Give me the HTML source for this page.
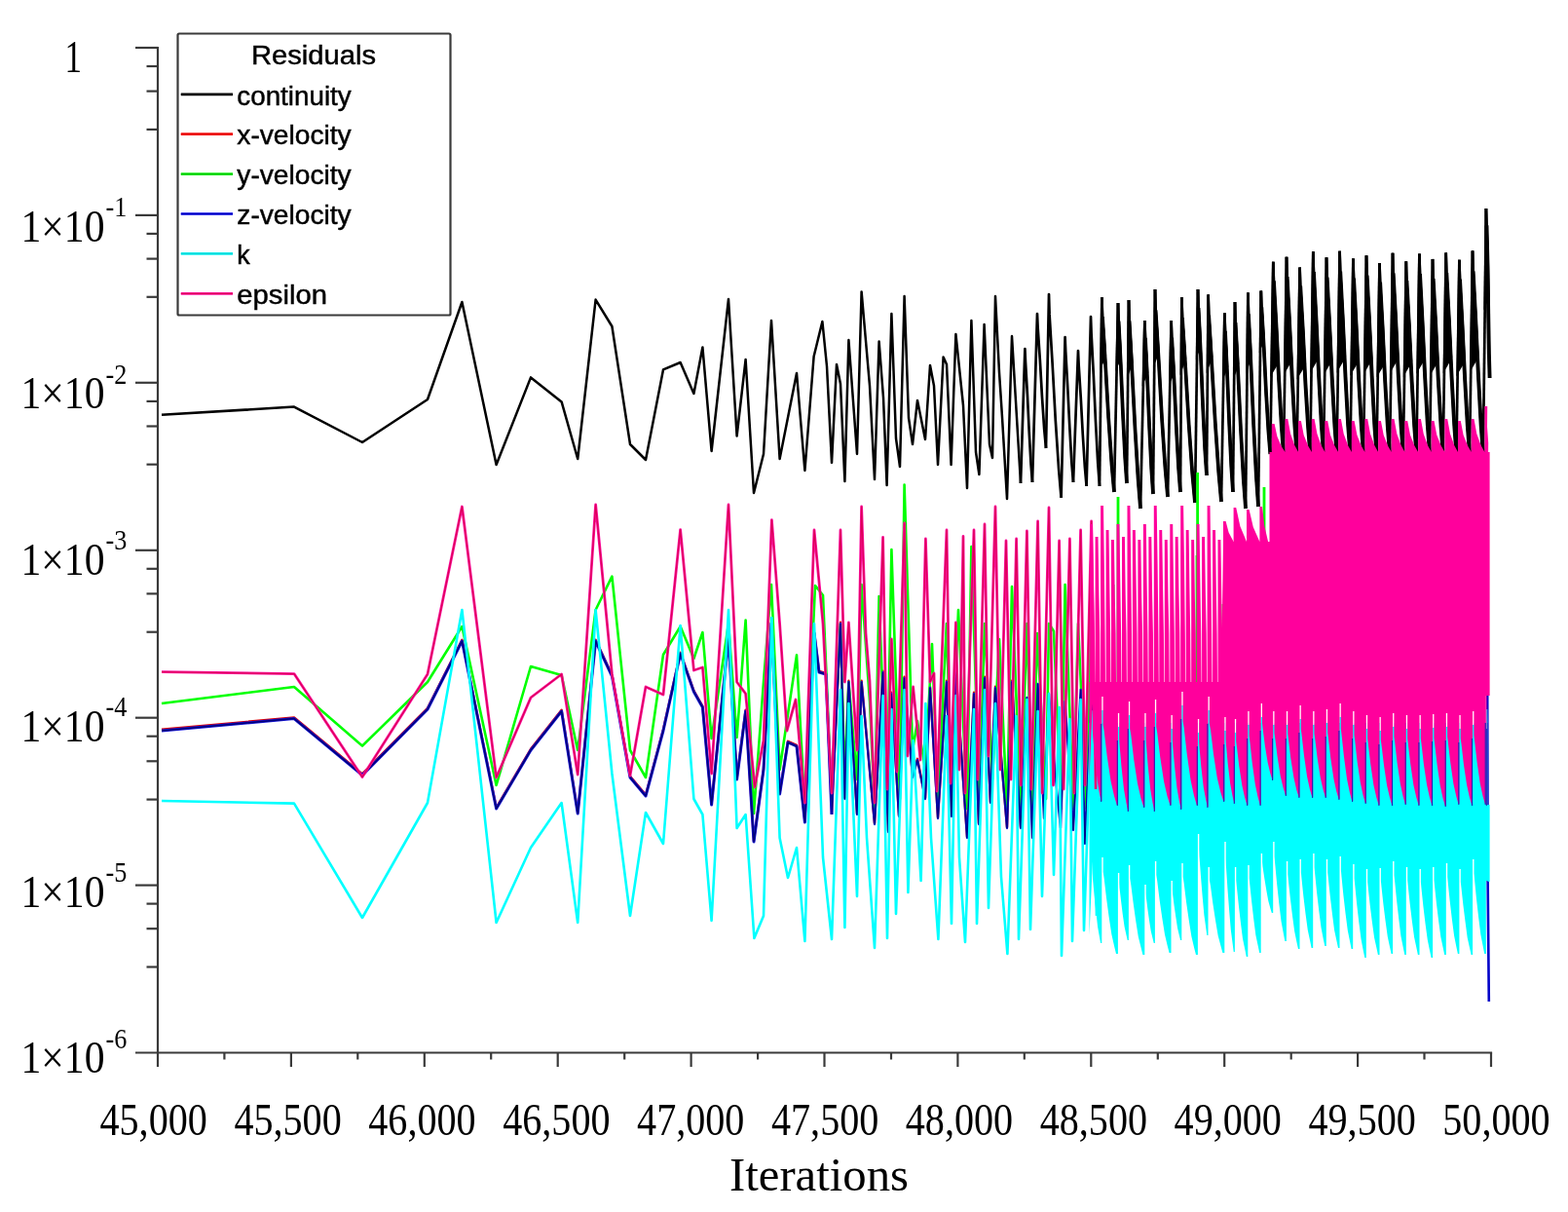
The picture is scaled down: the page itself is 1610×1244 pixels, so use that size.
<!DOCTYPE html>
<html lang="en"><head><meta charset="utf-8"><title>Residuals</title>
<style>html,body{margin:0;padding:0;background:#fff}body{width:1610px;height:1244px;overflow:hidden}svg{display:block}.t{font-family:"Liberation Serif",serif;fill:#000}.s{font-family:"Liberation Sans",sans-serif;fill:#000}.c{fill:none;stroke-linejoin:round;stroke-linecap:butt}</style></head><body>
<svg width="1610" height="1244" viewBox="0 0 1610 1244">
<rect width="1610" height="1244" fill="#fff"/>
<path class="c" d="M166.0 425.8L302.0 417.6L372.0 454.0L439.0 410.0L474.4 310.0L509.6 477.0L545.0 387.4L576.6 412.4L593.2 471.0L611.6 307.6L628.4 335.0L647.0 456.0L663.0 472.0L681.0 379.4L698.6 372.0L712.4 404.0L721.4 356.4L730.6 463.0L748.0 307.0L756.6 447.5L765.6 369.0L774.0 506.0L784.0 466.0L792.0 329.0L800.6 471.0L818.0 383.0L826.4 483.0L835.6 366.0L844.4 330.0L849.0 376.0L854.0 475.0L859.0 374.0L863.0 394.0L867.4 494.0L871.4 349.0L880.0 466.0L884.6 299.4L893.0 396.0L898.0 492.0L902.6 350.6L907.0 408.0L910.6 498.0L915.4 322.0L920.0 450.0L924.0 479.0L928.6 304.0L933.0 429.0L937.0 456.0L942.0 411.0L950.0 451.0L955.0 375.0L959.0 396.0L963.0 477.0L968.6 366.4L972.0 374.0L976.6 477.0L981.4 343.0L989.0 416.0L993.0 501.0L997.4 329.0L1002.0 464.0L1005.4 487.0L1010.6 333.0L1016.0 456.0L1019.0 470.0L1022.0 304.0L1026.0 382.0L1029.0 428.0L1034.0 512.0L1039.0 345.0L1048.0 496.0" stroke="#000000" stroke-width="2.5" />
<path class="c" d="M1048.0 496.0L1052.4 358.0L1053.0 371.7L1054.9 404.6L1056.7 442.9L1058.5 475.8L1060.0 495.0" stroke="#000000" stroke-width="2.7" />
<path class="c" d="M1060.0 495.0L1065.0 322.0L1065.6 335.8L1067.8 368.9L1070.0 407.6L1072.2 440.7L1074.0 460.0" stroke="#000000" stroke-width="2.7" />
<path class="c" d="M1074.0 460.0L1077.0 302.0L1077.6 322.9L1080.6 373.1L1083.8 431.6L1087.1 481.7L1089.6 511.0" stroke="#000000" stroke-width="2.7" />
<path class="c" d="M1089.6 511.0L1093.6 346.0L1094.2 360.9L1096.2 396.7L1098.3 438.4L1100.3 474.1L1102.0 495.0" stroke="#000000" stroke-width="2.7" />
<path class="c" d="M1102.0 495.0L1107.0 360.0L1107.6 373.9L1109.7 407.3L1111.8 446.2L1113.9 479.5L1115.6 499.0" stroke="#000000" stroke-width="2.7" />
<path class="c" d="M1115.6 499.0L1120.0 325.0L1120.6 342.4L1122.8 384.2L1125.0 432.9L1127.2 474.6L1129.0 499.0" stroke="#000000" stroke-width="2.7" />
<path class="c" d="M1129.0 499.0L1131.4 305.0" stroke="#000000" stroke-width="2.7" />
<path class="c" d="M1131.4 305.0L1132.0 325.0L1135.0 373.0L1138.2 429.0L1141.5 477.0L1144.0 505.0" stroke="#000000" stroke-width="2.7" />
<path class="c" d="M1132.0 325.0L1135.0 373.0L1138.2 429.0L1141.5 477.0L1144.0 505.0" stroke="#000000" stroke-width="3.7" />
<path d="M1130.1 305.0L1132.7 305.0L1133.4 329.0L1135.0 347.0L1136.1 365.0L1129.3 381.0Z" fill="#000000"/>
<path class="c" d="M1144.0 505.0L1148.0 311.0" stroke="#000000" stroke-width="2.7" />
<path class="c" d="M1148.0 311.0L1148.6 329.5L1150.8 373.9L1153.0 425.7L1155.2 470.1L1157.0 496.0" stroke="#000000" stroke-width="2.7" />
<path class="c" d="M1148.6 329.5L1150.8 373.9L1153.0 425.7L1155.2 470.1L1157.0 496.0" stroke="#000000" stroke-width="3.7" />
<path d="M1146.7 311.0L1149.3 311.0L1150.0 333.2L1151.2 349.9L1152.0 366.5L1145.4 381.3Z" fill="#000000"/>
<path class="c" d="M1157.0 496.0L1159.0 308.0" stroke="#000000" stroke-width="2.7" />
<path class="c" d="M1159.0 308.0L1159.6 329.4L1162.4 380.8L1165.5 440.7L1168.6 492.0L1171.0 522.0" stroke="#000000" stroke-width="2.7" />
<path class="c" d="M1159.6 329.4L1162.4 380.8L1165.5 440.7L1168.6 492.0L1171.0 522.0" stroke="#000000" stroke-width="3.7" />
<path d="M1157.7 308.0L1160.3 308.0L1161.0 333.7L1162.5 352.9L1163.6 372.2L1156.9 389.3Z" fill="#000000"/>
<path class="c" d="M1171.0 522.0L1175.4 329.0" stroke="#000000" stroke-width="2.7" />
<path class="c" d="M1175.4 329.0L1176.0 346.8L1178.1 389.5L1180.2 439.4L1182.3 482.1L1184.0 507.0" stroke="#000000" stroke-width="2.7" />
<path class="c" d="M1176.0 346.8L1178.1 389.5L1180.2 439.4L1182.3 482.1L1184.0 507.0" stroke="#000000" stroke-width="3.7" />
<path d="M1174.1 329.0L1176.7 329.0L1177.4 350.4L1178.6 366.4L1179.3 382.4L1172.7 396.6Z" fill="#000000"/>
<path class="c" d="M1184.0 507.0L1186.0 297.0" stroke="#000000" stroke-width="2.7" />
<path class="c" d="M1186.0 297.0L1186.6 318.3L1189.7 369.4L1193.0 429.1L1196.4 480.2L1199.0 510.0" stroke="#000000" stroke-width="2.7" />
<path class="c" d="M1186.6 318.3L1189.7 369.4L1193.0 429.1L1196.4 480.2L1199.0 510.0" stroke="#000000" stroke-width="3.7" />
<path d="M1184.7 297.0L1187.3 297.0L1188.1 322.6L1189.6 341.7L1190.7 360.9L1184.0 377.9Z" fill="#000000"/>
<path class="c" d="M1199.0 510.0L1202.6 329.0" stroke="#000000" stroke-width="2.7" />
<path class="c" d="M1202.6 329.0L1203.2 346.6L1205.5 388.8L1207.8 438.1L1210.1 480.4L1212.0 505.0" stroke="#000000" stroke-width="2.7" />
<path class="c" d="M1203.2 346.6L1205.5 388.8L1207.8 438.1L1210.1 480.4L1212.0 505.0" stroke="#000000" stroke-width="3.7" />
<path d="M1201.3 329.0L1203.9 329.0L1204.6 350.1L1205.8 366.0L1206.7 381.8L1200.1 395.9Z" fill="#000000"/>
<path class="c" d="M1212.0 505.0L1213.4 305.0" stroke="#000000" stroke-width="2.7" />
<path class="c" d="M1213.4 305.0L1214.0 326.1L1217.2 376.7L1220.7 435.8L1224.3 486.5L1227.0 516.0" stroke="#000000" stroke-width="2.7" />
<path class="c" d="M1214.0 326.1L1217.2 376.7L1220.7 435.8L1224.3 486.5L1227.0 516.0" stroke="#000000" stroke-width="3.7" />
<path d="M1212.1 305.0L1214.7 305.0L1215.5 330.3L1217.1 349.3L1218.3 368.3L1211.6 385.2Z" fill="#000000"/>
<path class="c" d="M1227.0 516.0L1230.0 297.0" stroke="#000000" stroke-width="2.7" />
<path class="c" d="M1230.0 297.0L1230.6 316.1L1232.8 361.9L1235.0 415.4L1237.2 461.3L1239.0 488.0" stroke="#000000" stroke-width="2.7" />
<path class="c" d="M1230.6 316.1L1232.8 361.9L1235.0 415.4L1237.2 461.3L1239.0 488.0" stroke="#000000" stroke-width="3.7" />
<path d="M1228.7 297.0L1231.3 297.0L1232.0 319.9L1233.2 337.1L1234.0 354.3L1227.8 369.6Z" fill="#000000"/>
<path class="c" d="M1239.0 488.0L1240.6 302.4" stroke="#000000" stroke-width="2.7" />
<path class="c" d="M1240.6 302.4L1241.2 323.7L1244.3 374.7L1247.8 434.2L1251.3 485.2L1254.0 515.0" stroke="#000000" stroke-width="2.7" />
<path class="c" d="M1241.2 323.7L1244.3 374.7L1247.8 434.2L1251.3 485.2L1254.0 515.0" stroke="#000000" stroke-width="3.7" />
<path d="M1239.3 302.4L1241.9 302.4L1242.7 327.9L1244.2 347.0L1245.4 366.2L1238.7 383.2Z" fill="#000000"/>
<path class="c" d="M1254.0 515.0L1257.4 321.4" stroke="#000000" stroke-width="2.7" />
<path class="c" d="M1257.4 321.4L1258.0 339.8L1260.1 383.8L1262.2 435.2L1264.3 479.3L1266.0 505.0" stroke="#000000" stroke-width="2.7" />
<path class="c" d="M1258.0 339.8L1260.1 383.8L1262.2 435.2L1264.3 479.3L1266.0 505.0" stroke="#000000" stroke-width="3.7" />
<path d="M1256.1 321.4L1258.7 321.4L1259.4 343.4L1260.6 360.0L1261.3 376.5L1255.0 391.2Z" fill="#000000"/>
<path class="c" d="M1266.0 505.0L1268.0 310.0" stroke="#000000" stroke-width="2.7" />
<path class="c" d="M1268.0 310.0L1268.6 331.2L1271.2 382.1L1274.0 441.4L1276.8 492.3L1279.0 522.0" stroke="#000000" stroke-width="2.7" />
<path class="c" d="M1268.6 331.2L1271.2 382.1L1274.0 441.4L1276.8 492.3L1279.0 522.0" stroke="#000000" stroke-width="3.7" />
<path d="M1266.7 310.0L1269.3 310.0L1270.0 335.4L1271.4 354.5L1272.4 373.6L1266.0 390.6Z" fill="#000000"/>
<path class="c" d="M1279.0 522.0L1281.4 300.4" stroke="#000000" stroke-width="2.7" />
<path class="c" d="M1281.4 300.4L1282.0 322.4L1284.5 375.1L1287.2 436.6L1289.9 489.3L1292.0 520.0" stroke="#000000" stroke-width="2.7" />
<path class="c" d="M1282.0 322.4L1284.5 375.1L1287.2 436.6L1289.9 489.3L1292.0 520.0" stroke="#000000" stroke-width="3.7" />
<path d="M1280.1 300.4L1282.7 300.4L1283.4 326.8L1284.8 346.5L1285.7 366.3L1279.3 383.8Z" fill="#000000"/>
<path class="c" d="M1292.0 520.0L1294.8 298.6" stroke="#000000" stroke-width="2.7" />
<path class="c" d="M1294.8 298.6L1295.4 315.3L1297.7 355.5L1300.0 402.4L1302.4 442.6L1304.3 466.0" stroke="#000000" stroke-width="2.7" />
<path class="c" d="M1295.4 315.3L1297.7 355.5L1300.0 402.4L1302.4 442.6L1304.3 466.0" stroke="#000000" stroke-width="3.7" />
<path d="M1293.5 298.6L1296.1 298.6L1296.8 318.7L1298.0 333.8L1298.9 348.8L1292.8 362.2Z" fill="#000000"/>
<path class="c" d="M1304.3 466.0L1307.3 268.7" stroke="#000000" stroke-width="2.7" />
<path class="c" d="M1307.3 268.7L1307.9 288.4L1310.5 335.8L1313.2 391.0L1315.9 438.4L1318.0 466.0" stroke="#000000" stroke-width="2.7" />
<path class="c" d="M1307.9 288.4L1310.5 335.8L1313.2 391.0L1315.9 438.4L1318.0 466.0" stroke="#000000" stroke-width="3.9" />
<path d="M1306.0 268.7L1308.6 268.7L1309.3 292.4L1311.8 331.8L1313.8 371.3L1304.3 387.1Z" fill="#000000"/>
<path class="c" d="M1318.0 466.0L1321.0 263.8" stroke="#000000" stroke-width="2.7" />
<path class="c" d="M1321.0 263.8L1321.6 284.0L1324.1 332.5L1326.8 389.2L1329.5 437.7L1331.6 466.0" stroke="#000000" stroke-width="2.7" />
<path class="c" d="M1321.6 284.0L1324.1 332.5L1326.8 389.2L1329.5 437.7L1331.6 466.0" stroke="#000000" stroke-width="3.9" />
<path d="M1319.7 263.8L1322.3 263.8L1323.0 288.1L1325.5 328.5L1327.4 368.9L1318.0 385.1Z" fill="#000000"/>
<path class="c" d="M1331.6 466.0L1334.6 274.6" stroke="#000000" stroke-width="2.7" />
<path class="c" d="M1334.6 274.6L1335.2 293.7L1337.8 339.7L1340.4 393.3L1343.2 439.2L1345.3 466.0" stroke="#000000" stroke-width="2.7" />
<path class="c" d="M1335.2 293.7L1337.8 339.7L1340.4 393.3L1343.2 439.2L1345.3 466.0" stroke="#000000" stroke-width="3.9" />
<path d="M1333.3 274.6L1335.9 274.6L1336.6 297.6L1339.1 335.8L1341.1 374.1L1331.6 389.4Z" fill="#000000"/>
<path class="c" d="M1345.3 466.0L1348.3 258.2" stroke="#000000" stroke-width="2.7" />
<path class="c" d="M1348.3 258.2L1348.9 279.0L1351.5 328.9L1354.2 387.0L1356.9 436.9L1359.0 466.0" stroke="#000000" stroke-width="2.7" />
<path class="c" d="M1348.9 279.0L1351.5 328.9L1354.2 387.0L1356.9 436.9L1359.0 466.0" stroke="#000000" stroke-width="3.9" />
<path d="M1347.0 258.2L1349.6 258.2L1350.3 283.1L1352.8 324.7L1354.8 366.3L1345.3 382.9Z" fill="#000000"/>
<path class="c" d="M1359.0 466.0L1362.0 264.3" stroke="#000000" stroke-width="2.7" />
<path class="c" d="M1362.0 264.3L1362.6 284.5L1365.1 332.9L1367.8 389.4L1370.5 437.8L1372.6 466.0" stroke="#000000" stroke-width="2.7" />
<path class="c" d="M1362.6 284.5L1365.1 332.9L1367.8 389.4L1370.5 437.8L1372.6 466.0" stroke="#000000" stroke-width="3.9" />
<path d="M1360.7 264.3L1363.3 264.3L1364.0 288.5L1366.5 328.8L1368.4 369.2L1359.0 385.3Z" fill="#000000"/>
<path class="c" d="M1372.6 466.0L1375.6 257.7" stroke="#000000" stroke-width="2.7" />
<path class="c" d="M1375.6 257.7L1376.2 278.5L1378.8 328.5L1381.5 386.8L1384.2 436.8L1386.4 466.0" stroke="#000000" stroke-width="2.7" />
<path class="c" d="M1376.2 278.5L1378.8 328.5L1381.5 386.8L1384.2 436.8L1386.4 466.0" stroke="#000000" stroke-width="3.9" />
<path d="M1374.3 257.7L1376.9 257.7L1377.6 282.7L1380.2 324.4L1382.1 366.0L1372.6 382.7Z" fill="#000000"/>
<path class="c" d="M1386.4 466.0L1389.4 265.4" stroke="#000000" stroke-width="2.7" />
<path class="c" d="M1389.4 265.4L1390.0 285.5L1392.5 333.6L1395.2 389.8L1397.9 437.9L1400.0 466.0" stroke="#000000" stroke-width="2.7" />
<path class="c" d="M1390.0 285.5L1392.5 333.6L1395.2 389.8L1397.9 437.9L1400.0 466.0" stroke="#000000" stroke-width="3.9" />
<path d="M1388.1 265.4L1390.7 265.4L1391.4 289.5L1393.9 329.6L1395.8 369.7L1386.4 385.8Z" fill="#000000"/>
<path class="c" d="M1400.0 466.0L1403.0 262.2" stroke="#000000" stroke-width="2.7" />
<path class="c" d="M1403.0 262.2L1403.6 282.6L1406.1 331.5L1408.8 388.6L1411.4 437.5L1413.5 466.0" stroke="#000000" stroke-width="2.7" />
<path class="c" d="M1403.6 282.6L1406.1 331.5L1408.8 388.6L1411.4 437.5L1413.5 466.0" stroke="#000000" stroke-width="3.9" />
<path d="M1401.7 262.2L1404.3 262.2L1405.0 286.7L1407.5 327.4L1409.4 368.2L1400.0 384.5Z" fill="#000000"/>
<path class="c" d="M1413.5 466.0L1416.5 270.0" stroke="#000000" stroke-width="2.7" />
<path class="c" d="M1416.5 270.0L1417.1 289.6L1419.6 336.6L1422.2 391.5L1424.9 438.6L1427.0 466.0" stroke="#000000" stroke-width="2.7" />
<path class="c" d="M1417.1 289.6L1419.6 336.6L1422.2 391.5L1424.9 438.6L1427.0 466.0" stroke="#000000" stroke-width="3.9" />
<path d="M1415.2 270.0L1417.8 270.0L1418.5 293.5L1421.0 332.7L1422.9 371.9L1413.5 387.6Z" fill="#000000"/>
<path class="c" d="M1427.0 466.0L1430.0 259.8" stroke="#000000" stroke-width="2.7" />
<path class="c" d="M1430.0 259.8L1430.6 280.4L1433.2 329.9L1435.9 387.6L1438.6 437.1L1440.8 466.0" stroke="#000000" stroke-width="2.7" />
<path class="c" d="M1430.6 280.4L1433.2 329.9L1435.9 387.6L1438.6 437.1L1440.8 466.0" stroke="#000000" stroke-width="3.9" />
<path d="M1428.7 259.8L1431.3 259.8L1432.0 284.5L1434.6 325.8L1436.5 367.0L1427.0 383.5Z" fill="#000000"/>
<path class="c" d="M1440.8 466.0L1443.8 268.3" stroke="#000000" stroke-width="2.7" />
<path class="c" d="M1443.8 268.3L1444.4 288.1L1446.9 335.5L1449.6 390.9L1452.3 438.3L1454.4 466.0" stroke="#000000" stroke-width="2.7" />
<path class="c" d="M1444.4 288.1L1446.9 335.5L1449.6 390.9L1452.3 438.3L1454.4 466.0" stroke="#000000" stroke-width="3.9" />
<path d="M1442.5 268.3L1445.1 268.3L1445.8 292.0L1448.3 331.6L1450.2 371.1L1440.8 386.9Z" fill="#000000"/>
<path class="c" d="M1454.4 466.0L1457.4 260.6" stroke="#000000" stroke-width="2.7" />
<path class="c" d="M1457.4 260.6L1458.0 281.1L1460.5 330.4L1463.2 387.9L1465.9 437.2L1468.0 466.0" stroke="#000000" stroke-width="2.7" />
<path class="c" d="M1458.0 281.1L1460.5 330.4L1463.2 387.9L1465.9 437.2L1468.0 466.0" stroke="#000000" stroke-width="3.9" />
<path d="M1456.1 260.6L1458.7 260.6L1459.4 285.2L1461.9 326.3L1463.8 367.4L1454.4 383.8Z" fill="#000000"/>
<path class="c" d="M1468.0 466.0L1471.0 265.9" stroke="#000000" stroke-width="2.7" />
<path class="c" d="M1471.0 265.9L1471.6 285.9L1474.2 333.9L1476.8 390.0L1479.6 438.0L1481.7 466.0" stroke="#000000" stroke-width="2.7" />
<path class="c" d="M1471.6 285.9L1474.2 333.9L1476.8 390.0L1479.6 438.0L1481.7 466.0" stroke="#000000" stroke-width="3.9" />
<path d="M1469.7 265.9L1472.3 265.9L1473.0 289.9L1475.5 329.9L1477.5 370.0L1468.0 386.0Z" fill="#000000"/>
<path class="c" d="M1481.7 466.0L1484.7 259.5" stroke="#000000" stroke-width="2.7" />
<path class="c" d="M1484.7 259.5L1485.3 280.1L1487.9 329.7L1490.6 387.5L1493.3 437.1L1495.4 466.0" stroke="#000000" stroke-width="2.7" />
<path class="c" d="M1485.3 280.1L1487.9 329.7L1490.6 387.5L1493.3 437.1L1495.4 466.0" stroke="#000000" stroke-width="3.9" />
<path d="M1483.4 259.5L1486.0 259.5L1486.7 284.3L1489.2 325.6L1491.2 366.9L1481.7 383.4Z" fill="#000000"/>
<path class="c" d="M1495.4 466.0L1498.4 266.7" stroke="#000000" stroke-width="2.7" />
<path class="c" d="M1498.4 266.7L1499.0 286.6L1501.5 334.5L1504.2 390.3L1506.9 438.1L1509.0 466.0" stroke="#000000" stroke-width="2.7" />
<path class="c" d="M1499.0 286.6L1501.5 334.5L1504.2 390.3L1506.9 438.1L1509.0 466.0" stroke="#000000" stroke-width="3.9" />
<path d="M1497.1 266.7L1499.7 266.7L1500.4 290.6L1502.9 330.5L1504.8 370.3L1495.4 386.3Z" fill="#000000"/>
<path class="c" d="M1509.0 466.0L1512.0 257.4" stroke="#000000" stroke-width="2.7" />
<path class="c" d="M1512.0 257.4L1512.6 278.3L1515.2 328.3L1518.0 386.7L1520.7 436.8L1522.9 466.0" stroke="#000000" stroke-width="2.7" />
<path class="c" d="M1512.6 278.3L1515.2 328.3L1518.0 386.7L1520.7 436.8L1522.9 466.0" stroke="#000000" stroke-width="3.9" />
<path d="M1510.7 257.4L1513.3 257.4L1514.0 282.4L1516.6 324.2L1518.6 365.9L1509.0 382.6Z" fill="#000000"/>
<path class="c" d="M1522.9 466.0L1525.9 214.0" stroke="#000000" stroke-width="2.7" />
<path class="c" d="M1525.9 214.0L1526.5 231.4L1527.5 273.2L1528.2 321.9L1528.9 363.6L1529.6 388.0" stroke="#000000" stroke-width="2.7" />
<path class="c" d="M1526.5 231.4L1527.5 273.2L1528.2 321.9L1528.9 363.6L1529.6 388.0" stroke="#000000" stroke-width="3.9" />
<path d="M1524.6 214.0L1527.2 214.0L1527.8 234.9L1529.0 269.7L1529.6 304.5L1523.5 318.4Z" fill="#000000"/>
<path class="c" d="M166.0 748.8L302.0 736.4L372.0 794.4L439.0 726.8L474.4 656.8L509.6 828.8L545.0 768.8L576.6 728.8L593.2 833.8L611.6 656.8L628.4 692.8L647.0 796.8L663.0 815.8L681.0 748.8L698.6 669.8L712.4 708.8L721.4 724.8L730.6 824.8L748.0 653.8L756.6 798.8L765.6 728.8L774.0 862.8L784.0 788.8L792.0 638.8L800.6 813.8L809.0 760.8L818.0 764.8L826.4 842.8L836.0 648.8L841.0 688.8L848.0 690.8L854.0 834.8L863.0 638.8L867.4 818.8L871.4 698.8L880.0 834.8L884.6 698.8L898.0 844.8L906.6 688.8L912.0 852.8L915.4 710.8L923.0 836.8L928.6 694.8L937.0 796.8L942.0 778.8L950.0 818.8L955.0 704.8L963.0 838.8L972.0 698.8L977.0 836.8L981.4 688.8L993.0 858.8L1000.0 710.8L1005.0 844.8L1011.0 694.8L1017.0 822.8L1022.0 704.8L1034.0 848.8L1039.0 698.8L1048.0 848.8" stroke="#e00000" stroke-width="2.4" />
<path class="c" d="M166.0 722.0L302.0 705.0L372.0 765.6L439.0 700.0L474.4 643.0L509.6 806.0L545.0 684.0L576.6 693.0L593.2 770.0L611.6 626.0L628.4 591.6L647.0 770.0L663.0 798.0L681.0 672.0L698.6 643.0L712.4 676.0L721.4 649.0L730.6 758.0L748.0 640.0L756.6 757.0L765.6 636.6L774.0 835.0L784.0 700.0L792.0 600.0L800.6 790.0L818.0 672.4L826.4 830.0L837.0 601.0L845.0 611.0L854.0 820.0L863.0 640.0L867.4 800.0L871.4 700.0L880.0 800.0L884.6 600.0L893.0 720.0L898.0 830.0L902.6 612.0L910.6 830.0L915.4 564.0L924.0 820.0L928.6 497.6L937.0 770.0L942.0 740.0L950.0 790.0L957.0 661.0L963.0 820.0L972.0 640.0L976.6 810.0L984.0 626.0L993.0 830.0L997.4 561.0L1005.4 820.0L1011.0 640.0L1019.0 800.0L1026.0 656.0L1034.0 830.0L1039.0 602.0L1048.0 830.0L1054.4 640.0L1060.0 830.0L1065.0 650.0L1074.0 820.0L1077.0 640.0L1082.0 648.0L1089.6 830.0L1093.6 600.0L1102.0 830.0L1107.0 640.0L1115.6 830.0L1120.0 620.0L1126.0 800.0" stroke="#00ff00" stroke-width="2.6" />
<path class="c" d="M1148.0 510.0L1148.0 720.0" stroke="#00ff00" stroke-width="2.8" />
<path class="c" d="M1229.6 485.0L1229.6 720.0" stroke="#00ff00" stroke-width="2.8" />
<path class="c" d="M1298.0 500.0L1298.0 720.0" stroke="#00ff00" stroke-width="2.8" />
<path class="c" d="M1229.0 570.0L1229.0 720.0" stroke="#00ff00" stroke-width="2.8" />
<path class="c" d="M1143.0 600.0L1143.0 720.0" stroke="#00ff00" stroke-width="2.8" />
<path class="c" d="M1256.0 620.0L1256.0 720.0" stroke="#00ff00" stroke-width="2.8" />
<path class="c" d="M166.0 750.0L302.0 737.6L372.0 795.6L439.0 728.0L474.4 658.0L509.6 830.0L545.0 770.0L576.6 730.0L593.2 835.0L611.6 658.0L628.4 694.0L647.0 798.0L663.0 817.0L681.0 750.0L698.6 671.0L712.4 710.0L721.4 726.0L730.6 826.0L748.0 655.0L756.6 800.0L765.6 730.0L774.0 864.0L784.0 790.0L792.0 640.0L800.6 815.0L809.0 762.0L818.0 766.0L826.4 844.0L836.0 650.0L841.0 690.0L848.0 692.0L854.0 836.0" stroke="#1414d8" stroke-width="3.0" />
<path class="c" d="M166.0 750.0L302.0 737.6L372.0 795.6L439.0 728.0L474.4 658.0L509.6 830.0L545.0 770.0L576.6 730.0L593.2 835.0L611.6 658.0L628.4 694.0L647.0 798.0L663.0 817.0L681.0 750.0L698.6 671.0L712.4 710.0L721.4 726.0L730.6 826.0L748.0 655.0L756.6 800.0L765.6 730.0L774.0 864.0L784.0 790.0L792.0 640.0L800.6 815.0L809.0 762.0L818.0 766.0L826.4 844.0L836.0 650.0L841.0 690.0L848.0 692.0L854.0 836.0" stroke="#000078" stroke-width="1.5" />
<path class="c" d="M854.0 836.0L863.0 640.0L867.4 820.0L871.4 700.0L880.0 836.0L884.6 700.0L898.0 846.0L906.6 690.0L912.0 854.0L915.4 712.0L923.0 838.0L928.6 696.0L937.0 798.0L942.0 780.0L950.0 820.0L955.0 706.0L963.0 840.0L972.0 700.0L977.0 838.0L981.4 690.0L993.0 860.0L1000.0 712.0L1005.0 846.0L1011.0 696.0L1017.0 824.0L1022.0 706.0L1034.0 850.0L1039.0 700.0L1048.0 850.0L1054.4 716.0L1060.0 860.0L1065.6 702.0L1072.0 840.0L1077.0 712.0L1084.0 800.0L1089.0 850.0L1093.6 720.0L1102.0 852.0L1109.6 708.0L1114.0 866.0L1120.6 716.0L1126.0 840.0" stroke="#1010c8" stroke-width="2.3" />
<path class="c" d="M854.0 836.0L863.0 640.0L867.4 820.0L871.4 700.0L880.0 836.0L884.6 700.0L898.0 846.0L906.6 690.0L912.0 854.0L915.4 712.0L923.0 838.0L928.6 696.0L937.0 798.0L942.0 780.0L950.0 820.0L955.0 706.0L963.0 840.0L972.0 700.0L977.0 838.0L981.4 690.0L993.0 860.0L1000.0 712.0L1005.0 846.0L1011.0 696.0L1017.0 824.0L1022.0 706.0L1034.0 850.0L1039.0 700.0L1048.0 850.0L1054.4 716.0L1060.0 860.0L1065.6 702.0L1072.0 840.0L1077.0 712.0L1084.0 800.0L1089.0 850.0L1093.6 720.0L1102.0 852.0L1109.6 708.0L1114.0 866.0L1120.6 716.0L1126.0 840.0" stroke="#000080" stroke-width="1.0" />
<path class="c" d="M1527.2 714.0L1527.6 900.0L1528.8 1028.0" stroke="#0000c8" stroke-width="2.6" />
<path class="c" d="M166.0 822.0L302.0 824.6L372.0 942.0L439.0 824.0L474.4 626.0L509.6 947.0L545.0 870.0L576.6 824.0L593.2 947.0L611.6 626.0L628.4 794.0L647.0 940.0L663.0 834.0L681.0 866.0L698.6 642.0L712.4 820.0L721.4 836.0L730.6 945.0L748.0 626.0L756.6 850.0L765.6 836.0L774.4 963.0L784.0 940.0L792.4 634.0L800.6 860.0L809.0 901.0L818.0 870.0L826.4 966.0L836.0 640.0L845.0 880.0L854.0 964.0L863.0 708.0L867.4 952.0L871.4 722.0L880.0 920.0L884.6 735.0L890.0 860.0L898.0 973.0L906.6 714.0L911.0 963.0L915.4 728.0L920.0 938.0L928.6 708.0L932.4 916.0L937.6 760.0L945.6 904.0L950.4 722.0L956.0 860.0L963.4 964.0L972.0 735.0L977.0 948.0L981.4 714.0L985.0 880.0L991.0 967.0L1000.0 728.0L1003.0 948.0L1011.0 708.0L1015.0 932.0L1022.0 722.0L1028.0 900.0L1034.4 979.0L1043.4 735.0L1046.0 964.0L1054.4 718.0L1058.0 954.0L1065.6 730.0L1070.0 920.0L1077.0 712.0L1082.0 898.0L1087.6 726.0L1090.0 981.0L1098.4 738.0L1101.0 966.0L1109.6 718.0L1113.0 955.0L1120.6 730.0L1126.0 940.0" stroke="#00ffff" stroke-width="2.6" />
<path d="M1118.5 780.0L1118.5 742.0L1120.4 742.0L1120.4 736.0L1122.0 736.0L1122.2 742.0L1131.2 742.0L1131.2 729.0L1132.8 729.0L1133.0 742.0L1147.8 742.0L1147.8 746.0L1149.4 746.0L1149.6 742.0L1158.8 742.0L1158.8 734.0L1160.4 734.0L1160.6 742.0L1175.2 742.0L1175.2 746.0L1176.8 746.0L1177.0 742.0L1185.8 742.0L1185.8 732.0L1187.4 732.0L1187.6 742.0L1202.4 742.0L1202.4 748.0L1204.0 748.0L1204.2 742.0L1213.2 742.0L1213.2 724.0L1214.8 724.0L1215.0 742.0L1229.8 742.0L1229.8 752.0L1231.4 752.0L1231.6 742.0L1240.4 742.0L1240.4 729.0L1242.0 729.0L1242.2 742.0L1257.2 742.0L1257.2 750.0L1258.8 750.0L1259.0 742.0L1267.8 742.0L1267.8 752.0L1269.4 752.0L1269.6 742.0L1281.2 742.0L1281.2 744.0L1282.8 744.0L1283.0 742.0L1294.6 742.0L1294.6 736.0L1296.2 736.0L1296.4 742.0L1307.1 742.0L1307.1 744.0L1308.7 744.0L1308.9 742.0L1320.8 742.0L1320.8 744.0L1322.4 744.0L1322.6 742.0L1334.4 742.0L1334.4 738.0L1336.0 738.0L1336.2 742.0L1348.1 742.0L1348.1 744.0L1349.7 744.0L1349.9 742.0L1361.7 742.0L1361.7 742.0L1363.3 742.0L1363.5 742.0L1375.4 742.0L1375.4 736.0L1377.0 736.0L1377.2 742.0L1389.1 742.0L1389.1 744.0L1390.7 744.0L1390.9 742.0L1402.7 742.0L1402.7 748.0L1404.3 748.0L1404.5 742.0L1416.4 742.0L1416.4 750.0L1418.0 750.0L1418.2 742.0L1430.0 742.0L1430.0 746.0L1431.6 746.0L1431.8 742.0L1443.7 742.0L1443.7 748.0L1445.3 748.0L1445.5 742.0L1457.4 742.0L1457.4 748.0L1459.0 748.0L1459.2 742.0L1471.0 742.0L1471.0 747.0L1472.6 747.0L1472.8 742.0L1484.7 742.0L1484.7 746.0L1486.3 746.0L1486.5 742.0L1498.3 742.0L1498.3 748.0L1499.9 748.0L1500.1 742.0L1512.0 742.0L1512.0 744.0L1513.6 744.0L1513.8 742.0L1525.7 742.0L1525.7 728.0L1527.3 728.0L1527.5 742.0L1527.3 742.0L1527.3 826.0L1529.6 826.0L1529.6 905.0L1529.5 904.0L1529.5 905.0L1529.2 905.0L1528.8 904.9L1528.1 904.8L1527.5 904.6L1527.2 904.4L1527.2 904.2L1527.2 904.1L1527.2 904.0L1525.8 904.0L1525.8 979.0L1524.2 979.0L1522.9 972.2L1520.4 959.6L1518.2 942.1L1516.0 922.7L1514.1 903.3L1513.5 896.5L1513.5 882.0L1512.1 882.0L1512.1 980.0L1510.6 980.0L1509.2 973.8L1506.7 962.4L1504.6 946.6L1502.4 929.0L1500.5 911.4L1499.8 905.2L1499.8 892.0L1498.4 892.0L1498.4 979.0L1496.9 979.0L1495.5 972.5L1493.1 960.4L1490.9 943.7L1488.7 925.1L1486.8 906.5L1486.2 900.0L1486.2 886.0L1484.8 886.0L1484.8 980.0L1483.2 980.0L1481.9 973.7L1479.4 962.0L1477.2 945.8L1475.0 927.8L1473.1 909.8L1472.5 903.5L1472.5 890.0L1471.1 890.0L1471.1 983.0L1469.6 983.0L1468.2 976.6L1465.8 964.8L1463.6 948.4L1461.4 930.2L1459.5 912.0L1458.9 905.6L1458.9 892.0L1457.5 892.0L1457.5 980.0L1455.9 980.0L1454.6 973.7L1452.1 962.0L1449.9 945.8L1447.7 927.8L1445.8 909.8L1445.2 903.5L1445.2 890.0L1443.8 890.0L1443.8 980.0L1442.3 980.0L1440.9 973.3L1438.4 960.8L1436.3 943.5L1434.1 924.3L1432.2 905.1L1431.5 898.4L1431.5 884.0L1430.1 884.0L1430.1 979.0L1428.6 979.0L1427.2 972.8L1424.8 961.4L1422.6 945.6L1420.4 928.0L1418.5 910.4L1417.9 904.2L1417.9 891.0L1416.5 891.0L1416.5 980.0L1414.9 980.0L1413.6 973.8L1411.1 962.4L1408.9 946.6L1406.7 929.0L1404.8 911.4L1404.2 905.2L1404.2 892.0L1402.8 892.0L1402.8 983.0L1401.3 983.0L1399.9 976.3L1397.5 963.8L1395.3 946.5L1393.1 927.3L1391.2 908.1L1390.6 901.4L1390.6 887.0L1389.2 887.0L1389.2 974.0L1387.6 974.0L1386.3 967.4L1383.8 955.0L1381.6 937.9L1379.4 918.9L1377.5 899.9L1376.9 893.2L1376.9 879.0L1375.5 879.0L1375.5 973.0L1374.0 973.0L1372.6 966.6L1370.1 954.8L1368.0 938.4L1365.8 920.2L1363.9 902.0L1363.2 895.6L1363.2 882.0L1361.8 882.0L1361.8 971.0L1360.3 971.0L1358.9 964.4L1356.5 952.0L1354.3 934.9L1352.1 915.9L1350.2 896.9L1349.6 890.2L1349.6 876.0L1348.2 876.0L1348.2 973.0L1346.6 973.0L1345.3 966.6L1342.8 954.8L1340.6 938.4L1338.4 920.2L1336.5 902.0L1335.9 895.6L1335.9 882.0L1334.5 882.0L1334.5 974.0L1333.0 974.0L1331.6 967.7L1329.2 956.0L1327.0 939.8L1324.8 921.8L1322.9 903.8L1322.3 897.5L1322.3 884.0L1320.9 884.0L1320.9 966.0L1319.3 966.0L1318.0 958.9L1315.5 945.6L1313.3 927.2L1311.1 906.8L1309.2 886.4L1308.6 879.3L1308.6 864.0L1307.2 864.0L1307.2 937.0L1305.8 937.0L1304.5 932.7L1302.3 924.8L1300.3 913.8L1298.3 901.6L1296.5 889.4L1296.1 885.1L1296.1 876.0L1294.7 876.0L1294.7 978.0L1293.2 978.0L1291.9 971.7L1289.4 960.0L1287.3 943.8L1285.2 925.8L1283.3 907.8L1282.7 901.5L1282.7 888.0L1281.3 888.0L1281.3 982.0L1279.8 982.0L1278.5 975.6L1276.0 963.6L1273.9 947.0L1271.8 928.6L1269.9 910.2L1269.3 903.8L1269.3 890.0L1267.9 890.0L1267.9 977.0L1266.7 977.0L1265.7 969.1L1263.8 954.4L1262.1 934.1L1260.4 911.5L1258.9 888.9L1258.7 881.0L1258.7 864.0L1257.3 864.0L1257.3 978.0L1255.4 978.0L1253.7 971.8L1250.7 960.4L1248.0 944.6L1245.3 927.0L1243.0 909.4L1241.9 903.2L1241.9 890.0L1240.5 890.0L1240.5 960.0L1239.3 960.0L1238.3 952.7L1236.4 939.2L1234.7 920.5L1233.0 899.7L1231.5 878.9L1231.3 871.6L1231.3 856.0L1229.9 856.0L1229.9 980.0L1228.0 980.0L1226.3 973.4L1223.4 961.2L1220.7 944.3L1218.0 925.5L1215.7 906.7L1214.7 900.1L1214.7 886.0L1213.3 886.0L1213.3 965.0L1212.1 965.0L1211.0 960.7L1209.1 952.8L1207.4 941.8L1205.6 929.6L1204.1 917.4L1203.9 913.1L1203.9 904.0L1202.5 904.0L1202.5 978.0L1200.6 978.0L1198.9 971.4L1196.0 959.2L1193.3 942.3L1190.6 923.5L1188.3 904.7L1187.3 898.1L1187.3 884.0L1185.9 884.0L1185.9 968.0L1184.7 968.0L1183.7 963.8L1181.8 956.0L1180.1 945.2L1178.4 933.2L1176.9 921.2L1176.7 917.0L1176.7 908.0L1175.3 908.0L1175.3 980.0L1173.4 980.0L1171.8 973.6L1168.8 961.6L1166.2 945.0L1163.6 926.6L1161.3 908.2L1160.3 901.8L1160.3 888.0L1158.9 888.0L1158.9 965.0L1157.7 965.0L1156.6 960.2L1154.6 951.2L1152.8 938.8L1151.1 925.0L1149.5 911.2L1149.3 906.4L1149.3 896.0L1147.9 896.0L1147.9 979.0L1146.0 979.0L1144.3 972.1L1141.4 959.2L1138.7 941.4L1136.0 921.6L1133.7 901.8L1132.7 894.9L1132.7 880.0L1131.3 880.0L1131.3 968.0L1130.1 968.0L1129.0 962.1L1127.1 951.2L1125.4 936.1L1123.6 919.3L1122.1 902.5L1121.9 896.6L1121.9 884.0L1118.5 960.0L1118.5 780.0Z" fill="#00ffff"/>
<path class="c" d="M166.0 689.6L302.0 691.6L372.0 797.6L439.0 692.0L474.4 520.0L509.6 798.0L545.0 716.0L576.6 692.0L593.2 795.0L611.6 518.0L628.4 692.0L647.0 796.0L663.0 705.0L681.0 713.0L698.6 543.6L712.4 688.0L721.4 685.0L730.6 794.0L748.0 518.0L756.6 700.0L765.6 712.0L775.0 808.0L784.0 760.0L792.4 533.6L800.6 640.0L808.0 750.0L817.0 718.0L826.4 824.0L836.0 544.0L845.0 640.0L854.0 814.0L863.0 544.0L867.4 700.0L871.4 639.0L880.0 770.0L884.6 520.0L889.0 650.0L893.0 699.0L898.0 824.0L906.6 551.4L911.0 810.0L915.4 656.0L921.0 792.0L928.6 537.0L932.0 776.0L937.6 705.0L945.0 780.0L950.4 553.0L955.0 700.0L959.0 691.0L962.0 812.0L972.0 544.0L976.0 804.0L981.4 639.0L985.0 790.0L989.0 550.4L991.0 814.0L1000.0 544.0L1004.0 800.0L1011.0 538.0L1015.0 776.0L1022.0 520.0L1027.0 790.0L1033.0 555.0L1038.0 800.0L1043.6 553.0L1048.1 806.0L1054.4 545.0L1058.9 810.0L1065.6 535.0L1070.1 814.0L1077.0 521.0L1081.5 806.0L1087.6 555.0L1092.1 810.0L1098.4 553.0L1102.9 814.0L1109.6 544.0L1114.1 806.0L1120.6 535.0L1125.1 810.0" stroke="#ff10a4" stroke-width="2.8" />
<path class="c" d="M166.0 689.6L302.0 691.6L372.0 797.6L439.0 692.0L474.4 520.0L509.6 798.0L545.0 716.0L576.6 692.0L593.2 795.0L611.6 518.0L628.4 692.0L647.0 796.0L663.0 705.0L681.0 713.0L698.6 543.6L712.4 688.0L721.4 685.0L730.6 794.0L748.0 518.0L756.6 700.0L765.6 712.0L775.0 808.0L784.0 760.0L792.4 533.6L800.6 640.0L808.0 750.0L817.0 718.0L826.4 824.0L836.0 544.0L845.0 640.0L854.0 814.0L863.0 544.0L867.4 700.0L871.4 639.0L880.0 770.0L884.6 520.0L889.0 650.0L893.0 699.0L898.0 824.0L906.6 551.4L911.0 810.0L915.4 656.0L921.0 792.0L928.6 537.0L932.0 776.0L937.6 705.0L945.0 780.0L950.4 553.0L955.0 700.0L959.0 691.0L962.0 812.0L972.0 544.0L976.0 804.0L981.4 639.0L985.0 790.0L989.0 550.4L991.0 814.0L1000.0 544.0L1004.0 800.0L1011.0 538.0L1015.0 776.0L1022.0 520.0L1027.0 790.0L1033.0 555.0L1038.0 800.0L1043.6 553.0L1048.1 806.0L1054.4 545.0L1058.9 810.0L1065.6 535.0L1070.1 814.0L1077.0 521.0L1081.5 806.0L1087.6 555.0L1092.1 810.0L1098.4 553.0L1102.9 814.0L1109.6 544.0L1114.1 806.0L1120.6 535.0L1125.1 810.0" stroke="#dc0058" stroke-width="1.3" />
<path d="M1119.1 538.0L1122.0 538.0L1122.9 598.0L1123.7 650.0L1124.1 700.0L1124.9 708.0L1119.1 708.0Z" fill="#ff009c"/>
<path d="M1124.6 551.0L1127.5 551.0L1128.4 611.0L1129.2 650.0L1129.6 700.0L1130.4 708.0L1124.6 708.0Z" fill="#ff009c"/>
<path d="M1130.1 519.0L1133.0 519.0L1133.8 579.0L1134.6 650.0L1135.0 700.0L1135.8 708.0L1130.1 708.0Z" fill="#ff009c"/>
<path d="M1135.6 544.0L1138.5 544.0L1139.3 604.0L1140.1 650.0L1140.5 700.0L1141.3 708.0L1135.6 708.0Z" fill="#ff009c"/>
<path d="M1141.0 554.0L1143.9 554.0L1144.8 614.0L1145.6 650.0L1146.0 700.0L1146.8 708.0L1141.0 708.0Z" fill="#ff009c"/>
<path d="M1146.5 538.0L1149.4 538.0L1150.3 598.0L1151.1 650.0L1151.5 700.0L1152.3 708.0L1146.5 708.0Z" fill="#ff009c"/>
<path d="M1152.0 551.0L1154.9 551.0L1155.7 611.0L1156.5 650.0L1156.9 700.0L1157.7 708.0L1152.0 708.0Z" fill="#ff009c"/>
<path d="M1157.5 519.0L1160.4 519.0L1161.2 579.0L1162.0 650.0L1162.4 700.0L1163.2 708.0L1157.5 708.0Z" fill="#ff009c"/>
<path d="M1162.9 544.0L1165.8 544.0L1166.7 604.0L1167.5 650.0L1167.9 700.0L1168.7 708.0L1162.9 708.0Z" fill="#ff009c"/>
<path d="M1168.4 554.0L1171.3 554.0L1172.2 614.0L1173.0 650.0L1173.4 700.0L1174.2 708.0L1168.4 708.0Z" fill="#ff009c"/>
<path d="M1173.9 538.0L1176.8 538.0L1177.6 598.0L1178.4 650.0L1178.8 700.0L1179.6 708.0L1173.9 708.0Z" fill="#ff009c"/>
<path d="M1179.4 551.0L1182.3 551.0L1183.1 611.0L1183.9 650.0L1184.3 700.0L1185.1 708.0L1179.4 708.0Z" fill="#ff009c"/>
<path d="M1184.8 519.0L1187.7 519.0L1188.6 579.0L1189.4 650.0L1189.8 700.0L1190.6 708.0L1184.8 708.0Z" fill="#ff009c"/>
<path d="M1190.3 544.0L1193.2 544.0L1194.1 604.0L1194.9 650.0L1195.3 700.0L1196.1 708.0L1190.3 708.0Z" fill="#ff009c"/>
<path d="M1195.8 554.0L1198.7 554.0L1199.5 614.0L1200.3 650.0L1200.7 700.0L1201.5 708.0L1195.8 708.0Z" fill="#ff009c"/>
<path d="M1201.3 538.0L1204.2 538.0L1205.0 598.0L1205.8 650.0L1206.2 700.0L1207.0 708.0L1201.3 708.0Z" fill="#ff009c"/>
<path d="M1206.7 551.0L1209.6 551.0L1210.5 611.0L1211.3 650.0L1211.7 700.0L1212.5 708.0L1206.7 708.0Z" fill="#ff009c"/>
<path d="M1212.2 519.0L1215.1 519.0L1216.0 579.0L1216.8 650.0L1217.2 700.0L1218.0 708.0L1212.2 708.0Z" fill="#ff009c"/>
<path d="M1217.7 544.0L1220.6 544.0L1221.4 604.0L1222.2 650.0L1222.6 700.0L1223.4 708.0L1217.7 708.0Z" fill="#ff009c"/>
<path d="M1223.2 554.0L1226.1 554.0L1226.9 614.0L1227.7 650.0L1228.1 700.0L1228.9 708.0L1223.2 708.0Z" fill="#ff009c"/>
<path d="M1228.6 538.0L1231.5 538.0L1232.4 598.0L1233.2 650.0L1233.6 700.0L1234.4 708.0L1228.6 708.0Z" fill="#ff009c"/>
<path d="M1234.1 551.0L1237.0 551.0L1237.9 611.0L1238.7 650.0L1239.1 700.0L1239.9 708.0L1234.1 708.0Z" fill="#ff009c"/>
<path d="M1239.6 519.0L1242.5 519.0L1243.3 579.0L1244.1 650.0L1244.5 700.0L1245.3 708.0L1239.6 708.0Z" fill="#ff009c"/>
<path d="M1245.1 544.0L1248.0 544.0L1248.8 604.0L1249.6 650.0L1250.0 700.0L1250.8 708.0L1245.1 708.0Z" fill="#ff009c"/>
<path d="M1250.5 554.0L1253.4 554.0L1254.3 614.0L1255.1 650.0L1255.5 700.0L1256.3 708.0L1250.5 708.0Z" fill="#ff009c"/>
<path d="M1118.5 700.0L1254.0 700.0L1256.0 556.0L1256.0 535.0L1258.6 535.0L1261.6 546.5L1266.6 556.0L1266.6 556.0L1266.6 521.0L1269.2 521.0L1273.4 540.2L1280.0 556.0L1280.0 556.0L1280.0 523.0L1282.6 523.0L1286.8 541.1L1293.4 556.0L1293.4 556.0L1293.4 520.0L1296.0 520.0L1298.3 539.8L1302.1 556.0L1303.5 556.0L1303.5 464.0L1305.8 464.0L1305.8 435.0L1308.6 435.0L1311.4 448.1L1315.8 458.2L1319.5 464.0L1319.5 464.0L1319.5 430.0L1322.3 430.0L1325.1 445.3L1329.4 457.2L1333.1 464.0L1333.1 464.0L1333.1 432.0L1335.9 432.0L1338.7 446.4L1343.1 457.6L1346.8 464.0L1346.8 464.0L1346.8 430.0L1349.6 430.0L1352.4 445.3L1356.7 457.2L1360.4 464.0L1360.4 464.0L1360.4 432.0L1363.2 432.0L1366.0 446.4L1370.4 457.6L1374.1 464.0L1374.1 464.0L1374.1 430.0L1376.9 430.0L1379.7 445.3L1384.1 457.2L1387.8 464.0L1387.8 464.0L1387.8 432.0L1390.6 432.0L1393.4 446.4L1397.7 457.6L1401.4 464.0L1401.4 464.0L1401.4 430.0L1404.2 430.0L1407.0 445.3L1411.4 457.2L1415.1 464.0L1415.1 464.0L1415.1 432.0L1417.9 432.0L1420.7 446.4L1425.0 457.6L1428.7 464.0L1428.7 464.0L1428.7 430.0L1431.5 430.0L1434.3 445.3L1438.7 457.2L1442.4 464.0L1442.4 464.0L1442.4 432.0L1445.2 432.0L1448.0 446.4L1452.4 457.6L1456.1 464.0L1456.1 464.0L1456.1 430.0L1458.9 430.0L1461.7 445.3L1466.0 457.2L1469.7 464.0L1469.7 464.0L1469.7 432.0L1472.5 432.0L1475.3 446.4L1479.7 457.6L1483.4 464.0L1483.4 464.0L1483.4 430.0L1486.2 430.0L1489.0 445.3L1493.3 457.2L1497.0 464.0L1497.0 464.0L1497.0 432.0L1499.8 432.0L1502.6 446.4L1507.0 457.6L1510.7 464.0L1510.7 464.0L1510.7 430.0L1513.5 430.0L1516.3 445.3L1520.7 457.2L1524.4 464.0L1524.4 464.0L1524.4 417.0L1527.2 417.0L1527.0 438.1L1528.2 454.6L1528.1 464.0L1529.6 464.0L1529.6 714.0L1526.6 714.0L1526.5 714.0L1526.5 826.0L1527.1 826.0L1527.1 817.0L1527.1 801.4L1527.1 775.6L1527.1 749.8L1527.1 743.1L1527.1 714.0L1525.8 714.0L1525.8 825.0L1524.8 825.0L1522.6 817.4L1519.7 804.1L1516.6 782.2L1514.1 760.4L1513.4 754.7L1513.4 730.0L1512.1 730.0L1512.1 826.0L1511.1 826.0L1508.9 818.6L1506.1 805.8L1502.9 784.6L1500.5 763.4L1499.7 757.9L1499.7 734.0L1498.4 734.0L1498.4 825.0L1497.4 825.0L1495.3 817.6L1492.4 804.5L1489.3 783.1L1486.8 761.8L1486.1 756.2L1486.1 732.0L1484.8 732.0L1484.8 827.0L1483.8 827.0L1481.6 819.5L1478.7 806.3L1475.6 784.7L1473.1 763.1L1472.4 757.4L1472.4 733.0L1471.1 733.0L1471.1 826.0L1470.1 826.0L1467.9 818.6L1465.1 805.8L1461.9 784.6L1459.5 763.4L1458.8 757.9L1458.8 734.0L1457.5 734.0L1457.5 826.0L1456.5 826.0L1454.3 818.6L1451.4 805.8L1448.3 784.6L1445.8 763.4L1445.1 757.9L1445.1 734.0L1443.8 734.0L1443.8 825.0L1442.8 825.0L1440.6 817.6L1437.8 804.5L1434.6 783.1L1432.2 761.8L1431.4 756.2L1431.4 732.0L1430.1 732.0L1430.1 826.0L1429.1 826.0L1427.0 818.8L1424.1 806.2L1421.0 785.5L1418.5 764.8L1417.8 759.4L1417.8 736.0L1416.5 736.0L1416.5 826.0L1415.5 826.0L1413.3 818.6L1410.4 805.8L1407.3 784.6L1404.8 763.4L1404.1 757.9L1404.1 734.0L1402.8 734.0L1402.8 824.0L1401.8 824.0L1399.6 816.5L1396.8 803.3L1393.6 781.7L1391.2 760.1L1390.5 754.4L1390.5 730.0L1389.2 730.0L1389.2 822.0L1388.2 822.0L1386.0 814.0L1383.1 800.0L1380.0 777.0L1377.5 754.0L1376.8 748.0L1376.8 722.0L1375.5 722.0L1375.5 820.0L1374.5 820.0L1372.3 812.6L1369.5 799.8L1366.3 778.6L1363.9 757.4L1363.1 751.9L1363.1 728.0L1361.8 728.0L1361.8 818.0L1360.8 818.0L1358.7 811.0L1355.8 798.6L1352.7 778.4L1350.2 758.2L1349.5 752.9L1349.5 730.0L1348.2 730.0L1348.2 818.0L1347.2 818.0L1345.0 810.5L1342.1 797.3L1339.0 775.7L1336.5 754.1L1335.8 748.4L1335.8 724.0L1334.5 724.0L1334.5 818.0L1333.5 818.0L1331.3 811.0L1328.5 798.6L1325.3 778.4L1322.9 758.2L1322.2 752.9L1322.2 730.0L1320.9 730.0L1320.9 816.0L1319.9 816.0L1317.7 809.1L1314.8 797.1L1311.7 777.3L1309.2 757.5L1308.5 752.4L1308.5 730.0L1307.2 730.0L1307.2 800.0L1306.3 800.0L1304.3 793.8L1301.7 782.8L1298.8 764.9L1296.5 747.0L1296.0 742.3L1296.0 722.0L1294.7 722.0L1294.7 826.0L1293.7 826.0L1291.6 818.3L1288.8 804.9L1285.7 782.8L1283.3 760.7L1282.6 755.0L1282.6 730.0L1281.3 730.0L1281.3 826.0L1280.3 826.0L1278.2 819.0L1275.4 806.6L1272.3 786.4L1269.9 766.2L1269.2 760.9L1269.2 738.0L1267.9 738.0L1267.9 824.0L1267.2 824.0L1265.5 817.0L1263.2 804.6L1260.8 784.4L1258.9 764.2L1258.6 758.9L1258.6 736.0L1257.3 736.0L1257.3 822.0L1256.1 822.0L1253.4 813.4L1249.8 798.5L1246.0 773.9L1243.0 749.2L1241.8 742.8L1241.8 715.0L1240.5 715.0L1240.5 828.0L1239.8 828.0L1238.1 820.8L1235.8 808.2L1233.4 787.5L1231.5 766.8L1231.2 761.4L1231.2 738.0L1229.9 738.0L1229.9 826.0L1228.7 826.0L1226.0 816.7L1222.5 800.5L1218.7 773.8L1215.7 747.1L1214.6 740.2L1214.6 710.0L1213.3 710.0L1213.3 830.0L1212.5 830.0L1210.8 822.3L1208.5 808.9L1206.1 786.8L1204.1 764.7L1203.8 759.0L1203.8 734.0L1202.5 734.0L1202.5 826.0L1201.3 826.0L1198.6 817.4L1195.1 802.2L1191.3 777.4L1188.3 752.6L1187.2 746.1L1187.2 718.0L1185.9 718.0L1185.9 832.0L1185.2 832.0L1183.5 824.0L1181.2 810.0L1178.8 787.0L1176.9 764.0L1176.6 758.0L1176.6 732.0L1175.3 732.0L1175.3 828.0L1174.1 828.0L1171.5 819.4L1168.0 804.2L1164.2 779.4L1161.3 754.6L1160.2 748.1L1160.2 720.0L1158.9 720.0L1158.9 832.0L1158.1 832.0L1156.4 824.0L1154.0 810.0L1151.5 787.0L1149.5 764.0L1149.2 758.0L1149.2 732.0L1147.9 732.0L1147.9 826.0L1146.7 826.0L1144.0 817.1L1140.5 801.6L1136.7 776.0L1133.7 750.5L1132.6 743.9L1132.6 715.0L1131.3 715.0L1131.3 822.0L1130.5 822.0L1128.8 814.0L1126.5 800.0L1124.1 777.0L1122.1 754.0L1121.8 748.0L1121.8 722.0L1118.5 800.0L1118.5 700.0Z" fill="#ff009c"/>
<path class="c" d="M1130.7 743.0L1130.7 823.0" stroke="#2020b8" stroke-width="1.1" />
<path class="c" d="M1147.3 760.0L1147.3 827.0" stroke="#2020b8" stroke-width="1.1" />
<path class="c" d="M1158.3 748.0L1158.3 833.0" stroke="#2020b8" stroke-width="1.1" />
<path class="c" d="M1174.7 760.0L1174.7 829.0" stroke="#2020b8" stroke-width="1.1" />
<path class="c" d="M1185.3 746.0L1185.3 833.0" stroke="#2020b8" stroke-width="1.1" />
<path class="c" d="M1201.9 762.0L1201.9 827.0" stroke="#2020b8" stroke-width="1.1" />
<path class="c" d="M1212.7 738.0L1212.7 831.0" stroke="#2020b8" stroke-width="1.1" />
<path class="c" d="M1229.3 766.0L1229.3 827.0" stroke="#2020b8" stroke-width="1.1" />
<path class="c" d="M1239.9 743.0L1239.9 829.0" stroke="#2020b8" stroke-width="1.1" />
<path class="c" d="M1256.7 764.0L1256.7 823.0" stroke="#2020b8" stroke-width="1.1" />
<path class="c" d="M1267.3 766.0L1267.3 825.0" stroke="#2020b8" stroke-width="1.1" />
<path class="c" d="M1280.7 758.0L1280.7 827.0" stroke="#2020b8" stroke-width="1.1" />
<path class="c" d="M1294.1 750.0L1294.1 827.0" stroke="#2020b8" stroke-width="1.1" />
<path class="c" d="M1306.6 758.0L1306.6 801.0" stroke="#2020b8" stroke-width="1.1" />
<path class="c" d="M1320.3 758.0L1320.3 817.0" stroke="#2020b8" stroke-width="1.1" />
<path class="c" d="M1333.9 752.0L1333.9 819.0" stroke="#2020b8" stroke-width="1.1" />
<path class="c" d="M1347.6 758.0L1347.6 819.0" stroke="#2020b8" stroke-width="1.1" />
<path class="c" d="M1361.2 756.0L1361.2 819.0" stroke="#2020b8" stroke-width="1.1" />
<path class="c" d="M1374.9 750.0L1374.9 821.0" stroke="#2020b8" stroke-width="1.1" />
<path class="c" d="M1388.6 758.0L1388.6 823.0" stroke="#2020b8" stroke-width="1.1" />
<path class="c" d="M1402.2 762.0L1402.2 825.0" stroke="#2020b8" stroke-width="1.1" />
<path class="c" d="M1415.9 764.0L1415.9 827.0" stroke="#2020b8" stroke-width="1.1" />
<path class="c" d="M1429.5 760.0L1429.5 827.0" stroke="#2020b8" stroke-width="1.1" />
<path class="c" d="M1443.2 762.0L1443.2 826.0" stroke="#2020b8" stroke-width="1.1" />
<path class="c" d="M1456.9 762.0L1456.9 827.0" stroke="#2020b8" stroke-width="1.1" />
<path class="c" d="M1470.5 761.0L1470.5 827.0" stroke="#2020b8" stroke-width="1.1" />
<path class="c" d="M1484.2 760.0L1484.2 828.0" stroke="#2020b8" stroke-width="1.1" />
<path class="c" d="M1497.8 762.0L1497.8 826.0" stroke="#2020b8" stroke-width="1.1" />
<path class="c" d="M1511.5 758.0L1511.5 827.0" stroke="#2020b8" stroke-width="1.1" />
<path class="c" d="M1525.2 742.0L1525.2 826.0" stroke="#2020b8" stroke-width="1.1" />
<path class="c" d="M1526.3 748.0L1526.3 827.0" stroke="#2020b8" stroke-width="1.1" />
<g stroke="#3a3a3a" stroke-width="2.2" fill="none" stroke-linecap="butt">
<path d="M162.0 47.9V1095.0"/>
<path d="M139.0 1080.5H1532.1"/>
<path d="M139.0 49.0H162.0"/>
<path d="M150.5 132.9H162.0"/>
<path d="M150.5 93.6H162.0"/>
<path d="M150.5 68.0H162.0"/>
<path d="M139.0 220.9H162.0"/>
<path d="M150.5 304.8H162.0"/>
<path d="M150.5 265.6H162.0"/>
<path d="M150.5 239.9H162.0"/>
<path d="M139.0 392.8H162.0"/>
<path d="M150.5 476.7H162.0"/>
<path d="M150.5 437.5H162.0"/>
<path d="M150.5 411.9H162.0"/>
<path d="M139.0 564.8H162.0"/>
<path d="M150.5 648.7H162.0"/>
<path d="M150.5 609.4H162.0"/>
<path d="M150.5 583.8H162.0"/>
<path d="M139.0 736.7H162.0"/>
<path d="M150.5 820.6H162.0"/>
<path d="M150.5 781.3H162.0"/>
<path d="M150.5 755.7H162.0"/>
<path d="M139.0 908.6H162.0"/>
<path d="M150.5 992.5H162.0"/>
<path d="M150.5 953.2H162.0"/>
<path d="M150.5 927.6H162.0"/>
<path d="M230.4 1080.5V1087.5"/>
<path d="M298.9 1080.5V1095.0"/>
<path d="M367.3 1080.5V1087.5"/>
<path d="M435.8 1080.5V1095.0"/>
<path d="M504.2 1080.5V1087.5"/>
<path d="M572.7 1080.5V1095.0"/>
<path d="M641.2 1080.5V1087.5"/>
<path d="M709.6 1080.5V1095.0"/>
<path d="M778.1 1080.5V1087.5"/>
<path d="M846.5 1080.5V1095.0"/>
<path d="M915.0 1080.5V1087.5"/>
<path d="M983.4 1080.5V1095.0"/>
<path d="M1051.8 1080.5V1087.5"/>
<path d="M1120.3 1080.5V1095.0"/>
<path d="M1188.8 1080.5V1087.5"/>
<path d="M1257.2 1080.5V1095.0"/>
<path d="M1325.7 1080.5V1087.5"/>
<path d="M1394.1 1080.5V1095.0"/>
<path d="M1462.5 1080.5V1087.5"/>
<path d="M1531.0 1080.5V1095.0"/>
</g>
<text class="t" x="102.5" y="1164.7" font-size="46" textLength="110.3" lengthAdjust="spacingAndGlyphs">45,000</text>
<text class="t" x="240.4" y="1164.7" font-size="46" textLength="110.3" lengthAdjust="spacingAndGlyphs">45,500</text>
<text class="t" x="378.3" y="1164.7" font-size="46" textLength="110.3" lengthAdjust="spacingAndGlyphs">46,000</text>
<text class="t" x="516.2" y="1164.7" font-size="46" textLength="110.3" lengthAdjust="spacingAndGlyphs">46,500</text>
<text class="t" x="654.1" y="1164.7" font-size="46" textLength="110.3" lengthAdjust="spacingAndGlyphs">47,000</text>
<text class="t" x="792.0" y="1164.7" font-size="46" textLength="110.3" lengthAdjust="spacingAndGlyphs">47,500</text>
<text class="t" x="929.8" y="1164.7" font-size="46" textLength="110.3" lengthAdjust="spacingAndGlyphs">48,000</text>
<text class="t" x="1067.7" y="1164.7" font-size="46" textLength="110.3" lengthAdjust="spacingAndGlyphs">48,500</text>
<text class="t" x="1205.6" y="1164.7" font-size="46" textLength="110.3" lengthAdjust="spacingAndGlyphs">49,000</text>
<text class="t" x="1343.5" y="1164.7" font-size="46" textLength="110.3" lengthAdjust="spacingAndGlyphs">49,500</text>
<text class="t" x="1481.3" y="1164.7" font-size="46" textLength="110.3" lengthAdjust="spacingAndGlyphs">50,000</text>
<text class="t" x="749" y="1222" font-size="48.5" textLength="184" lengthAdjust="spacingAndGlyphs">Iterations</text>
<text class="t" x="66.4" y="74.1" font-size="46" textLength="17.5" lengthAdjust="spacingAndGlyphs">1</text>
<text class="t" x="21.5" y="247.5" font-size="46" textLength="86" lengthAdjust="spacingAndGlyphs">1×10</text>
<text class="t" x="108.5" y="221.9" font-size="30" textLength="21.8" lengthAdjust="spacingAndGlyphs">-1</text>
<text class="t" x="21.5" y="419.1" font-size="46" textLength="86" lengthAdjust="spacingAndGlyphs">1×10</text>
<text class="t" x="108.5" y="393.5" font-size="30" textLength="21.8" lengthAdjust="spacingAndGlyphs">-2</text>
<text class="t" x="21.5" y="589.6" font-size="46" textLength="86" lengthAdjust="spacingAndGlyphs">1×10</text>
<text class="t" x="108.5" y="564.0" font-size="30" textLength="21.8" lengthAdjust="spacingAndGlyphs">-3</text>
<text class="t" x="21.5" y="760.9" font-size="46" textLength="86" lengthAdjust="spacingAndGlyphs">1×10</text>
<text class="t" x="108.5" y="735.3" font-size="30" textLength="21.8" lengthAdjust="spacingAndGlyphs">-4</text>
<text class="t" x="21.5" y="930.9" font-size="46" textLength="86" lengthAdjust="spacingAndGlyphs">1×10</text>
<text class="t" x="108.5" y="905.3" font-size="30" textLength="21.8" lengthAdjust="spacingAndGlyphs">-5</text>
<text class="t" x="21.5" y="1101.4" font-size="46" textLength="86" lengthAdjust="spacingAndGlyphs">1×10</text>
<text class="t" x="108.5" y="1075.8" font-size="30" textLength="21.8" lengthAdjust="spacingAndGlyphs">-6</text>
<rect x="182.5" y="34.5" width="280.0" height="289.0" rx="1.5" ry="1.5" fill="#fff" stroke="#3a3a3a" stroke-width="2.2"/>
<text class="s" x="258" y="66.4" font-size="27" textLength="128" lengthAdjust="spacingAndGlyphs" stroke="#000" stroke-width="0.45">Residuals</text>
<path d="M185.8 96.8H239" stroke="#000000" stroke-width="2.7" fill="none"/>
<path d="M185.8 96.8H239" stroke="#000000" stroke-width="1.3" fill="none"/>
<text class="s" x="243.3" y="107.5" font-size="27.3" textLength="117.4" lengthAdjust="spacingAndGlyphs" stroke="#000" stroke-width="0.45">continuity</text>
<path d="M185.8 137.7H239" stroke="#ff1010" stroke-width="2.7" fill="none"/>
<path d="M185.8 137.7H239" stroke="#e00000" stroke-width="1.3" fill="none"/>
<text class="s" x="243.3" y="148.4" font-size="27.3" textLength="117.4" lengthAdjust="spacingAndGlyphs" stroke="#000" stroke-width="0.45">x-velocity</text>
<path d="M185.8 178.6H239" stroke="#10f010" stroke-width="2.7" fill="none"/>
<path d="M185.8 178.6H239" stroke="#00c800" stroke-width="1.3" fill="none"/>
<text class="s" x="243.3" y="189.3" font-size="27.3" textLength="117.4" lengthAdjust="spacingAndGlyphs" stroke="#000" stroke-width="0.45">y-velocity</text>
<path d="M185.8 219.5H239" stroke="#1818ff" stroke-width="2.7" fill="none"/>
<path d="M185.8 219.5H239" stroke="#0000b8" stroke-width="1.3" fill="none"/>
<text class="s" x="243.3" y="230.2" font-size="27.3" textLength="117.4" lengthAdjust="spacingAndGlyphs" stroke="#000" stroke-width="0.45">z-velocity</text>
<path d="M185.8 260.4H239" stroke="#10f0f0" stroke-width="2.7" fill="none"/>
<path d="M185.8 260.4H239" stroke="#00d8d8" stroke-width="1.3" fill="none"/>
<text class="s" x="243.3" y="271.1" font-size="27.3" textLength="13.4" lengthAdjust="spacingAndGlyphs" stroke="#000" stroke-width="0.45">k</text>
<path d="M185.8 301.3H239" stroke="#ff10a4" stroke-width="2.7" fill="none"/>
<path d="M185.8 301.3H239" stroke="#dc0058" stroke-width="1.3" fill="none"/>
<text class="s" x="243.3" y="312.0" font-size="27.3" textLength="92.60000000000001" lengthAdjust="spacingAndGlyphs" stroke="#000" stroke-width="0.45">epsilon</text>
</svg></body></html>
